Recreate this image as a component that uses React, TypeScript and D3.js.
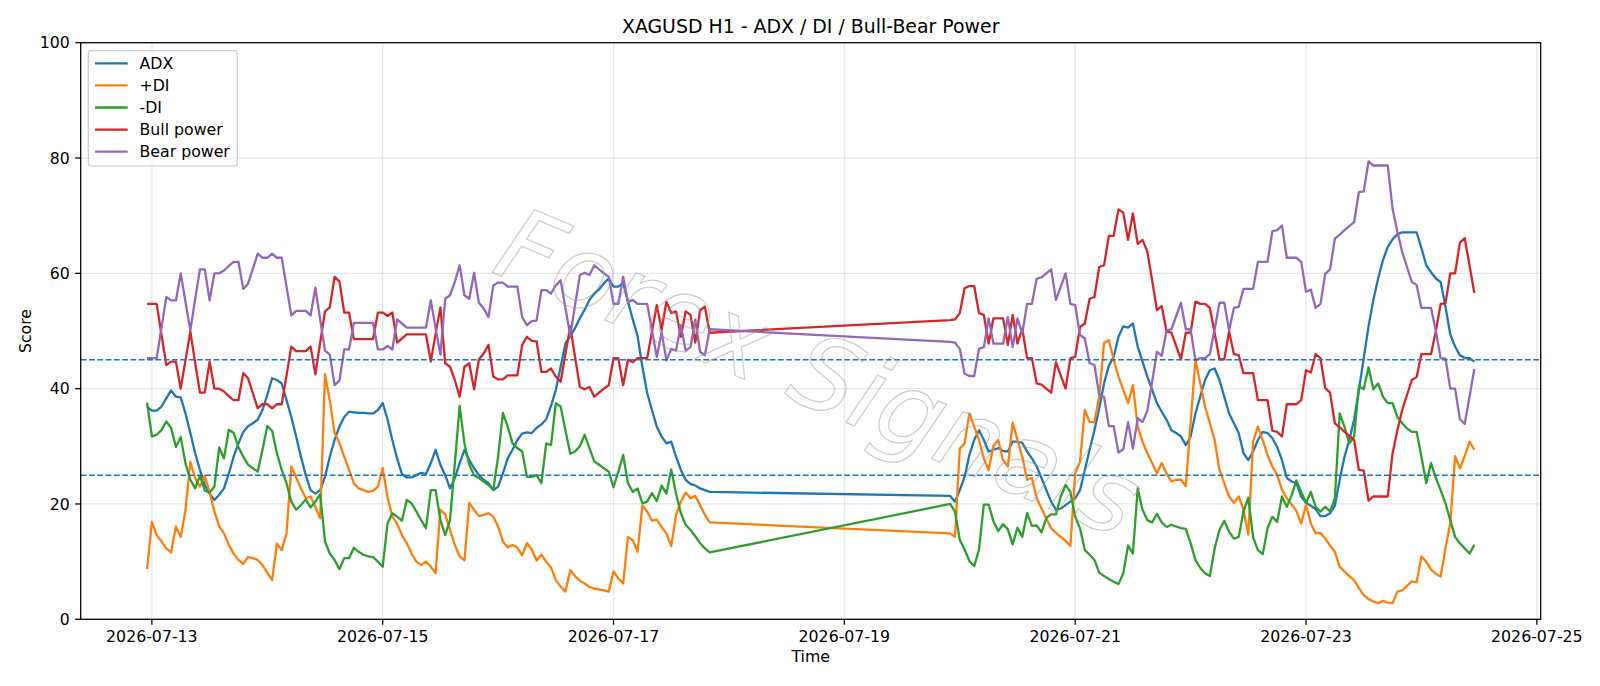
import React from 'react'
import * as d3 from 'd3'

// Hourly bars: the first week runs Sunday 23:00 to Friday 20:00, the second starts Sunday 22:00
const HOUR = 3600 * 1000
const WEEK1_START = Date.UTC(2026, 6, 12, 23)
const WEEK1_BARS = 118
const WEEK2_START = Date.UTC(2026, 6, 19, 22)

const adx = [
  36.9, 36.2, 36.2, 36.9, 38.3, 39.7, 38.6, 38.5, 35.7, 32.3,
  28.8, 25.9, 23.3, 21.8, 20.7, 21.6, 22.7, 25.3, 28.2, 30.5,
  32.5, 33.5, 34, 34.6, 36.3, 38.9, 41.8, 41.5, 40.9, 38,
  35.1, 31.7, 28.2, 25, 22.4, 21.8, 22.4, 24.7, 28.2, 31.1,
  33.4, 35.1, 36, 35.9, 35.8, 35.8, 35.7, 35.7, 36.3, 37.5,
  34.7, 31.1, 27.9, 25.2, 24.6, 24.6, 25, 25.4, 25.2, 27.1,
  29.4, 26.8, 25, 22.7, 24.5, 27.1, 29.4, 27.6, 26.2, 25,
  24.2, 23.6, 22.4, 23, 25.3, 27.9, 29.4, 31.1, 32.2, 32.4,
  32.3, 33.2, 33.8, 34.7, 37, 39.8, 43.8, 47.9, 49.1, 50.5,
  52.2, 53.7, 55.4, 56.5, 57.2, 58.3, 59.1, 57.7, 57.7, 58.3,
  55.1, 52, 49.1, 43.8, 39.2, 36.3, 33.4, 31.7, 30.5, 30.8,
  28.2, 25.9, 24.2, 23.5, 23.2, 22.7, 22.4, 22.1,
  21.4, 20.4, 22.4, 24.7, 28.5, 31.1, 32.8, 31.1, 29.1, 29.4,
  29.7, 29.2, 29.1, 30.8, 30.8, 30.6, 29.1, 27.9, 26.5, 24.5,
  22.4, 20.4, 19, 19.2, 19.8, 20.4, 21, 22.4, 25.9, 29.4,
  32.8, 36.6, 40.9, 44, 45.5, 49, 50.8, 50.6, 51.3, 47.3,
  44.7, 42.1, 39.8, 37.5, 36, 34.6, 32.8, 32.3, 31.7, 30.2,
  31.7, 35.7, 38.6, 41.5, 43.2, 43.5, 41.5, 38.6, 35.7, 34,
  32.3, 28.8, 27.6, 29.1, 31.1, 32.5, 32.3, 31.4, 29.9, 27.6,
  24.5, 23.9, 23.6, 21.3, 20.2, 19.7, 19.1, 17.9, 17.9, 18.4,
  19.7, 24.2, 28.2, 31.1, 34.6, 39.8, 45.3, 50.8, 55.4, 59.1,
  62.3, 64.6, 65.9, 66.8, 67.1, 67.1, 67.1, 67.1, 64.4, 61.4,
  60.2, 59.1, 58.5, 54.2, 49.4, 47.3, 45.8, 45.3, 45.3, 44.7,
]

const plusDi = [
  8.7, 16.9, 14.6, 13.5, 12.3, 11.6, 16.1, 14.3, 19, 27.3,
  24.5, 23, 24.9, 22.1, 18.7, 16.1, 14.9, 12.9, 11.4, 10.3,
  9.6, 10.8, 10.6, 10.3, 9.4, 8.1, 6.8, 13.1, 12, 14.9,
  26.5, 24.6, 22.7, 21, 21.3, 19.5, 17.5, 42.5, 38, 32.3,
  30.6, 28.2, 25.9, 23.6, 22.7, 22.4, 22.1, 22.3, 23, 26.2,
  21.2, 17.8, 16.6, 14.6, 13.2, 11.4, 10, 9.4, 10, 9.1,
  8, 19, 18.2, 15.5, 12.9, 10.9, 10.2, 20.2, 19, 17.9,
  18.1, 18.4, 17.8, 16.1, 13.5, 12.5, 12.9, 12.4, 11.1, 13.2,
  12.1, 10.2, 11.2, 10, 9, 6.8, 5.7, 4.8, 8.5, 7.5,
  6.7, 6.2, 5.6, 5.3, 5.2, 5, 4.8, 8.3, 7.1, 6.2,
  14.3, 13.7, 11.7, 19.7, 18.7, 17.1, 17.3, 16, 14.9, 12.7,
  18.1, 20.4, 22, 21, 21.4, 19.8, 18.1, 16.8,
  14.9, 14.3, 29.6, 30.5, 35.7, 33.4, 31.1, 27.9, 25.9, 30.1,
  31.1, 27.6, 26.5, 34.1, 31.1, 28.2, 24.2, 24.5, 21, 19.2,
  17.5, 15.8, 15, 14.3, 13.6, 12.7, 25.3, 27.3, 36.3, 34.2,
  34.2, 38.6, 47.9, 48.4, 45, 42.1, 39.8, 37.5, 40.6, 33.4,
  30.8, 28.8, 27.1, 25.3, 27.1, 25.3, 23.9, 24.2, 24.2, 23.1,
  34, 45, 41, 36.9, 34, 31.1, 25.9, 23.6, 21.3, 20.2,
  21.3, 19, 14.7, 30.8, 33.4, 31.1, 28.5, 26.5, 25, 22.5,
  21, 19.9, 18.8, 16.6, 19.8, 16.6, 14.9, 15, 14, 12.8,
  11.7, 9.1, 8.3, 7.5, 6.8, 5.4, 4.2, 3.5, 3.1, 2.8,
  3.2, 2.9, 2.8, 4.8, 5, 5.8, 6.6, 6.4, 10.9, 10,
  8.6, 7.9, 7.4, 12.3, 16.6, 28.3, 26.2, 28.3, 30.8, 29.4,
]

const minusDi = [
  37.6, 31.7, 32, 32.8, 34.3, 33.2, 29.9, 31.6, 27, 24.2,
  22.7, 24.9, 22.3, 22, 23, 29.8, 27.9, 32.9, 32.3, 29.9,
  28.2, 26.8, 26.2, 25.6, 29.4, 33.5, 32.7, 28.8, 25.9, 23.6,
  20.4, 19, 19.8, 20.8, 19.4, 20.4, 21.7, 13.5, 11.4, 10.3,
  8.7, 10.6, 10.6, 12.4, 11.7, 11.2, 10.9, 10.8, 10, 9.1,
  16.6, 18.4, 17.8, 17.1, 20.7, 20.1, 18.7, 17.2, 15.8, 22.4,
  22.4, 17.2, 14.6, 17.2, 27, 37, 30.5, 26.8, 25, 24.5,
  23.9, 23.3, 22.5, 28.2, 35.8, 33.4, 30.5, 29.7, 29.1, 24.7,
  24.7, 25, 23.6, 30.5, 30.2, 37.5, 36.9, 32.8, 28.7, 29.1,
  30, 32, 29.7, 27.4, 26.8, 26.2, 25.6, 22.9, 25.6, 28.5,
  23.6, 22.1, 22.7, 20.1, 20.4, 21.9, 20.5, 23.2, 21.8, 26,
  21.8, 18.4, 16.4, 15.5, 14.4, 13.2, 12.3, 11.6,
  20, 18.7, 13.8, 12.1, 10.1, 9.2, 12.1, 19.9, 19.9, 17,
  15.3, 16.5, 15.6, 13, 15.9, 14.3, 18.4, 16.2, 16.3, 15.1,
  17.6, 18.2, 18.2, 21.3, 23.3, 22.1, 17.8, 15.8, 12, 11.2,
  10.3, 8.1, 7.5, 7, 6.5, 6.1, 8, 12.8, 11.4, 22.7,
  19, 17.2, 16.8, 18.3, 16.8, 16, 16.4, 16.1, 15.8, 15.7,
  13.2, 10.3, 8.9, 8, 7.5, 12.3, 15.5, 17.1, 15.2, 14,
  14.3, 18.7, 21.1, 14.2, 12, 11.3, 15.8, 17.8, 16.9, 21.3,
  19.5, 21.5, 24.1, 22.1, 20.2, 22.1, 19.5, 18.7, 19.5, 18.7,
  21, 35.7, 33.4, 30.5, 31.7, 40.4, 39.9, 43.7, 39.9, 40.9,
  38.6, 37.5, 37.5, 35.1, 34, 33.1, 32.5, 32.5, 28.2, 23.6,
  27.1, 24.5, 22.4, 20.1, 17.2, 14.3, 13.2, 12.3, 11.4, 12.9,
]

const bullPower = [
  54.7, 54.7, 54.7, 49.4, 44.1, 44.7, 44.7, 40, 45, 49.9,
  44.5, 39.3, 39.3, 44.7, 40, 40, 39.5, 38.7, 38, 38,
  42.7, 41.8, 39.2, 36.6, 37.3, 37.3, 36.6, 37.3, 37.3, 42.3,
  47.3, 46.5, 46.5, 46.5, 47.3, 42.5, 48, 53.4, 54.1, 59.4,
  58.6, 53.2, 53.2, 48.6, 48.6, 48.6, 48.6, 48.6, 53.2, 53.2,
  52.6, 53.2, 48, 48.7, 49.4, 49.4, 49.4, 49.4, 49.4, 44.7,
  49.5, 54.1, 44.4, 43.8, 41.5, 38.6, 43.8, 44.4, 39.9, 45.1,
  46.1, 47.6, 42.1, 41.6, 41.6, 42.3, 42.3, 42.3, 47.6, 49,
  48.3, 48.2, 42.9, 42.9, 43.5, 42.1, 41.2, 46, 50.8, 45.5,
  40.3, 39.9, 40.3, 38.6, 39.3, 40, 40.6, 45.3, 45.3, 40.6,
  45, 44.6, 45.3, 45.3, 45.3, 49.9, 54.5, 50.2, 55.1, 53.1,
  53.4, 49, 53.4, 52.8, 48, 53.6, 54.2, 49.7,
  51.9, 52, 53.1, 57.4, 57.8, 57.8, 53.1, 52.8, 47.8, 52.2,
  52.2, 52.2, 47.6, 52.8, 47.8, 50.4, 45.3, 45.3, 40.9, 40.7,
  40, 39.3, 44.6, 42.3, 40, 45.3, 45.5, 50.7, 51.3, 55.6,
  55.9, 61.1, 61.4, 66.5, 66.5, 71.1, 70.5, 65.8, 70.4, 65.1,
  65.8, 63.8, 58.8, 53.6, 54.3, 49.9, 49.7, 47.4, 45.1, 49.7,
  49.7, 55.1, 54.7, 54.7, 54, 49.7, 45.1, 45.1, 49.9, 46,
  45.8, 42.7, 42.7, 42.7, 38, 38, 38, 32.7, 32.5, 31.7,
  37.3, 37.3, 37.3, 38, 43.2, 42.8, 46, 45.3, 40.1, 39.3,
  34, 33.3, 32.5, 31.8, 31.1, 25.9, 25.8, 20.6, 21.3, 21.3,
  21.3, 21.3, 28.8, 32.8, 36.3, 38.9, 41.5, 42, 46, 46,
  46, 50, 54.7, 54.8, 60, 60, 65.3, 66.1, 61.4, 56.6,
]

const bearPower = [
  45.3, 45.3, 45.3, 50.6, 55.9, 55.3, 55.3, 60, 55, 50.1,
  55.5, 60.7, 60.7, 55.3, 60, 60, 60.5, 61.3, 62, 62,
  57.3, 58.2, 60.8, 63.4, 62.7, 62.7, 63.4, 62.7, 62.7, 57.7,
  52.7, 53.5, 53.5, 53.5, 52.7, 57.5, 52, 46.6, 45.9, 40.6,
  41.4, 46.8, 46.8, 51.4, 51.4, 51.4, 51.4, 51.4, 46.8, 46.8,
  47.4, 46.8, 52, 51.3, 50.6, 50.6, 50.6, 50.6, 50.6, 55.3,
  50.5, 45.9, 55.6, 56.2, 58.5, 61.4, 56.2, 55.6, 60.1, 54.9,
  53.9, 52.4, 57.9, 58.4, 58.4, 57.7, 57.7, 57.7, 52.4, 51,
  51.7, 51.8, 57.1, 57.1, 56.5, 57.9, 58.8, 54, 49.2, 54.5,
  59.7, 60.1, 59.7, 61.4, 60.7, 60, 59.4, 54.7, 54.7, 59.4,
  55, 55.4, 54.7, 54.7, 54.7, 50.1, 45.5, 49.8, 44.9, 46.9,
  46.6, 51, 46.6, 47.2, 52, 46.4, 45.8, 50.3,
  48.1, 48, 46.9, 42.6, 42.2, 42.2, 46.9, 47.2, 52.2, 47.8,
  47.8, 47.8, 52.4, 47.2, 52.2, 49.6, 54.7, 54.7, 59.1, 59.3,
  60, 60.7, 55.4, 57.7, 60, 54.7, 54.5, 49.3, 48.7, 44.4,
  44.1, 38.9, 38.6, 33.5, 33.5, 28.9, 29.5, 34.2, 29.6, 34.9,
  34.2, 36.2, 41.2, 46.4, 45.7, 50.1, 50.3, 52.6, 54.9, 50.3,
  50.3, 44.9, 45.3, 45.3, 46, 50.3, 54.9, 54.9, 50.1, 54,
  54.2, 57.3, 57.3, 57.3, 62, 62, 62, 67.3, 67.5, 68.3,
  62.7, 62.7, 62.7, 62, 56.8, 57.2, 54, 54.7, 59.9, 60.7,
  66, 66.7, 67.5, 68.2, 68.9, 74.1, 74.2, 79.4, 78.7, 78.7,
  78.7, 78.7, 71.2, 67.2, 63.7, 61.1, 58.5, 58, 54, 54,
  54, 50, 45.3, 45.2, 40, 40, 34.7, 33.9, 38.6, 43.4,
]

const levelLines = [45, 25]
const yTicks = [0, 20, 40, 60, 80, 100]
const xTickLabels = ['2026-07-13', '2026-07-15', '2026-07-17', '2026-07-19', '2026-07-21', '2026-07-23', '2026-07-25']

const series = [
  { name: 'ADX', values: adx, color: '#1f77b4' },
  { name: '+DI', values: plusDi, color: '#ff7f0e' },
  { name: '-DI', values: minusDi, color: '#2ca02c' },
  { name: 'Bull power', values: bullPower, color: '#d62728' },
  { name: 'Bear power', values: bearPower, color: '#9467bd' },
]

const times = adx.map((_, i) =>
  new Date(i < WEEK1_BARS ? WEEK1_START + i * HOUR : WEEK2_START + (i - WEEK1_BARS) * HOUR)
)

const FONT = '"DejaVu Sans", Verdana, sans-serif'

const App: React.FC = () => {
  const width = 1600
  const height = 686
  const plot = { left: 80.7, right: 1540.7, top: 42.7, bottom: 619.3 }

  // matplotlib-style 5% padding around the time extent
  const [t0, t1] = d3.extent(times) as [Date, Date]
  const pad = (t1.getTime() - t0.getTime()) * 0.05
  const x = d3.scaleTime()
    .domain([new Date(t0.getTime() - pad), new Date(t1.getTime() + pad)])
    .range([plot.left, plot.right])
  const y = d3.scaleLinear().domain([0, 100]).range([plot.bottom, plot.top])

  const line = d3.line<number>()
    .x((_, i) => x(times[i]))
    .y(d => y(d))

  const xTicks = xTickLabels.map(label => ({ label, pos: x(new Date(label + 'T00:00:00Z')) }))
  const gridColor = '#b0b0b0'

  return (
    <svg
      width={width}
      height={height}
      viewBox={`0 0 ${width} ${height}`}
      style={{ position: 'absolute', left: 0, top: 0, background: '#fff' }}
      fontFamily={FONT}
    >
      <rect x={0} y={0} width={width} height={height} fill="#fff" />

      <defs>
        <clipPath id="plot-area">
          <rect x={plot.left} y={plot.top} width={plot.right - plot.left} height={plot.bottom - plot.top} />
        </clipPath>
      </defs>

      {/* Grid */}
      <g stroke={gridColor} strokeOpacity={0.3} strokeWidth={1.26}>
        {yTicks.map(t => (
          <line key={'gy' + t} x1={plot.left} x2={plot.right} y1={y(t)} y2={y(t)} />
        ))}
        {xTicks.map(t => (
          <line key={'gx' + t.label} x1={t.pos} x2={t.pos} y1={plot.top} y2={plot.bottom} />
        ))}
      </g>

      {/* Indicator lines */}
      <g clipPath="url(#plot-area)" fill="none" strokeWidth={2.3} strokeLinejoin="round" strokeLinecap="butt">
        {series.map(s => (
          <path key={s.name} d={line(s.values) || ''} stroke={s.color} />
        ))}
      </g>

      {/* Reference levels */}
      <g stroke="#1f77b4" strokeWidth={1.5} strokeDasharray="5.8 2.5">
        {levelLines.map(v => (
          <line key={'lv' + v} x1={plot.left} x2={plot.right} y1={y(v)} y2={y(v)} />
        ))}
      </g>

      {/* Frame */}
      <rect
        x={plot.left}
        y={plot.top}
        width={plot.right - plot.left}
        height={plot.bottom - plot.top}
        fill="none"
        stroke="#000"
        strokeWidth={1.26}
      />

      {/* Y axis */}
      <g fontSize={15.75} fill="#000">
        {yTicks.map(t => (
          <g key={'yt' + t}>
            <line x1={plot.left - 5.5} x2={plot.left} y1={y(t)} y2={y(t)} stroke="#000" strokeWidth={1.26} />
            <text x={plot.left - 11} y={y(t)} dy="0.36em" textAnchor="end">{t}</text>
          </g>
        ))}
      </g>

      {/* X axis */}
      <g fontSize={15.75} fill="#000">
        {xTicks.map(t => (
          <g key={'xt' + t.label}>
            <line x1={t.pos} x2={t.pos} y1={plot.bottom} y2={plot.bottom + 5.5} stroke="#000" strokeWidth={1.26} />
            <text x={t.pos} y={641.7} textAnchor="middle">{t.label}</text>
          </g>
        ))}
      </g>

      <text x={(plot.left + plot.right) / 2} y={662} fontSize={15.75} textAnchor="middle">Time</text>
      <text
        transform={`translate(31, ${(plot.top + plot.bottom) / 2}) rotate(-90)`}
        fontSize={15.75}
        textAnchor="middle"
      >
        Score
      </text>

      <text x={(plot.left + plot.right) / 2} y={33} fontSize={18.9} textAnchor="middle">
        XAGUSD H1 - ADX / DI / Bull-Bear Power
      </text>

      {/* Legend */}
      <g>
        <rect x={88.3} y={50.7} width={149} height={115.3} rx={3} fill="#fff" fillOpacity={0.8} stroke="#cccccc" strokeWidth={1.2} />
        {series.map((s, i) => {
          const cy = 63.3 + i * 22.1
          return (
            <g key={'lg' + s.name}>
              <line x1={95} x2={127.7} y1={cy} y2={cy} stroke={s.color} strokeWidth={2.3} />
              <text x={139.5} y={cy} dy="0.36em" fontSize={15.75}>{s.name}</text>
            </g>
          )
        })}
      </g>

      {/* Watermark */}
      <text
        transform="translate(805, 405) rotate(23)"
        fontSize={102}
        fontStyle="italic"
        textAnchor="middle"
        fill="none"
        stroke="#9a9a9a"
        strokeOpacity={0.5}
        strokeWidth={1.2}
      >
        Forex Signals
      </text>
    </svg>
  )
}

export default App
